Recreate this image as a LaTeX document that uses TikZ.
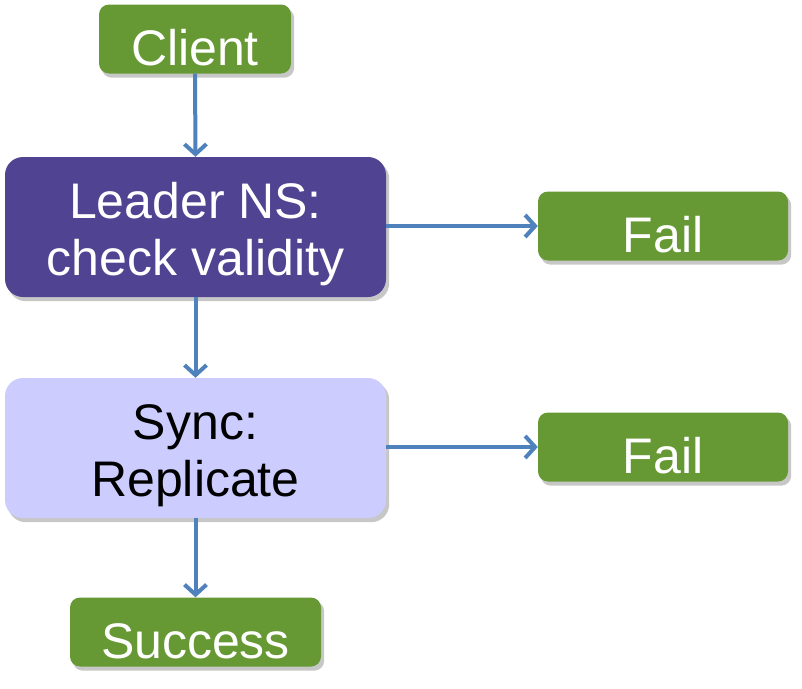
\documentclass[tikz,border=0pt]{standalone}
\usepackage{fontspec}
\setmainfont{Liberation Sans}
\usetikzlibrary{arrows.meta,backgrounds}
\definecolor{boxgreen}{RGB}{102,153,51}
\definecolor{boxpurple}{RGB}{80,67,146}
\definecolor{boxlav}{RGB}{204,204,255}
\definecolor{arrblue}{RGB}{79,129,189}
\newcommand{\dn}[1]{\raisebox{-9pt}[\height][\depth]{#1}}
\begin{document}
\begin{tikzpicture}[
  greenbox/.style={fill=boxgreen,text=white,rounded corners=10pt,inner sep=0pt,
    minimum height=69pt,font=\fontsize{50}{58}\selectfont},
  bigbox/.style={rounded corners=18pt,inner sep=0pt,minimum width=381pt,minimum height=140pt,
    font=\fontsize{50}{57}\selectfont},
  shadowbox/.style={fill=black,fill opacity=0.22,draw=none},
  conn/.style={draw=arrblue,line width=4pt,-{Straight Barb[length=10pt,width=22pt]}}]
\useasboundingbox (0pt,0pt) rectangle (802pt,-688pt);
\node[greenbox,minimum width=192pt] (client) at (195pt,-39pt) {\dn{Client}};
\node[bigbox,fill=boxpurple,text=white] (leader) at (195.5pt,-227pt)
  {\dn{\begin{tabular}{@{}c@{}}Leader NS:\\check validity\end{tabular}}};
\node[greenbox,minimum width=250pt] (fail1) at (663pt,-226pt) {\dn{Fail}};
\node[bigbox,fill=boxlav,text=black] (sync) at (195.5pt,-448pt)
  {\dn{\begin{tabular}{@{}c@{}}Sync:\\Replicate\end{tabular}}};
\node[greenbox,minimum width=250pt] (fail2) at (663pt,-447pt) {\dn{Fail}};
\node[greenbox,minimum width=251pt] (success) at (195.5pt,-632pt) {\dn{Success}};
\begin{scope}[on background layer]
  \foreach \n/\r in {client/10pt,fail1/10pt,fail2/10pt,success/10pt,leader/18pt,sync/18pt}{
    \fill[shadowbox,rounded corners=\r]
      ([xshift=3pt,yshift=-4pt]\n.south west) rectangle ([xshift=3pt,yshift=-4pt]\n.north east);
  }
\end{scope}
\draw[conn] (client.south) -- (leader.north);
\draw[conn] (leader.east |- fail1.west) -- (fail1.west);
\draw[conn] (leader.south) -- (sync.north);
\draw[conn] (sync.east |- fail2.west) -- (fail2.west);
\draw[conn] (sync.south) -- (success.north);
\end{tikzpicture}
\end{document}
